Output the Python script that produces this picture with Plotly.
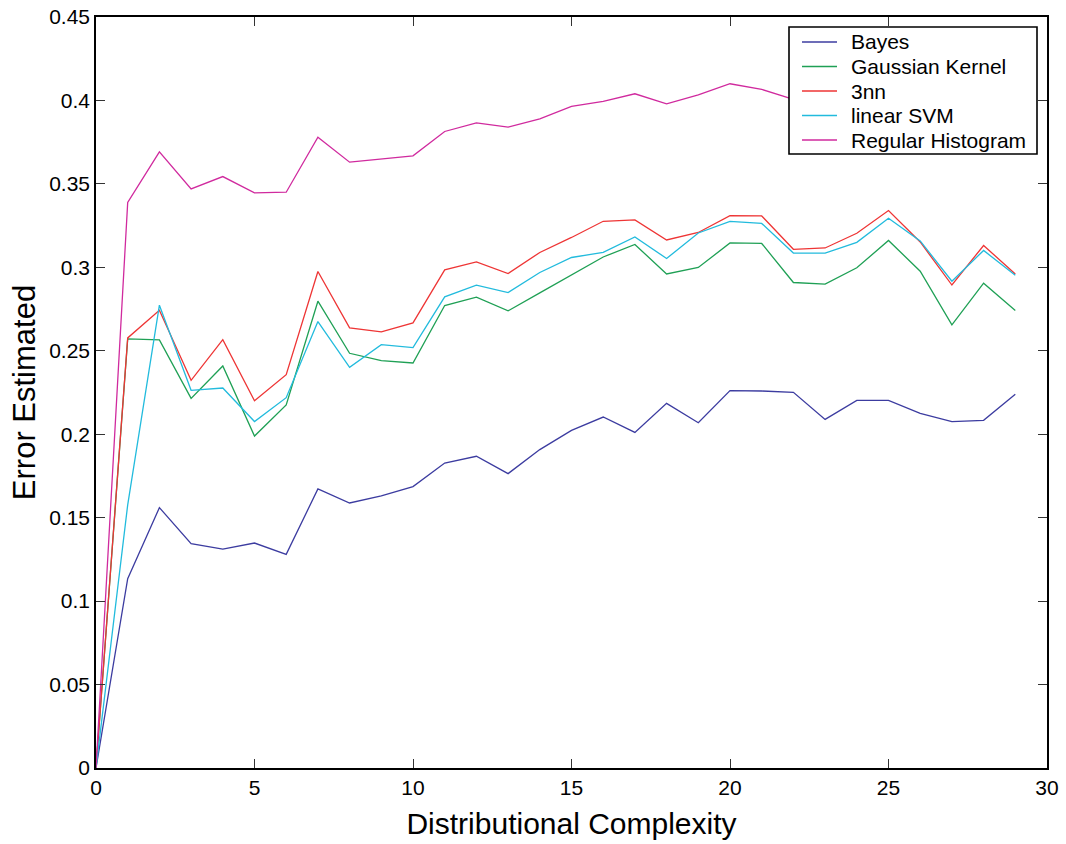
import plotly.graph_objects as go

# Distributional complexity levels
complexity = list(range(30))

bayes = [0, 0.1134, 0.156, 0.1344, 0.1312, 0.1348, 0.128, 0.1672, 0.1588, 0.163,
         0.1686, 0.1827, 0.1868, 0.1764, 0.1908, 0.2023, 0.2103, 0.2011, 0.2185, 0.2069,
         0.2261, 0.2259, 0.2251, 0.2089, 0.2203, 0.2203, 0.2125, 0.2075, 0.2083, 0.2239]

gaussian_kernel = [0, 0.2571, 0.2565, 0.2215, 0.2409, 0.1989, 0.2175, 0.2797, 0.2485, 0.2441,
                   0.2427, 0.2771, 0.2821, 0.2739, 0.2847, 0.2957, 0.3062, 0.3137, 0.2960, 0.2999,
                   0.3146, 0.3143, 0.2909, 0.2899, 0.2997, 0.3161, 0.2977, 0.2655, 0.2905, 0.2741]

knn3 = [0, 0.2577, 0.2743, 0.2323, 0.2567, 0.2201, 0.2357, 0.2975, 0.2637, 0.2613,
        0.2667, 0.2985, 0.3032, 0.2963, 0.3089, 0.3179, 0.3276, 0.3284, 0.3164, 0.3209,
        0.3310, 0.3308, 0.3108, 0.3116, 0.3204, 0.3340, 0.3152, 0.2894, 0.3131, 0.2960]

linear_svm = [0, 0.1577, 0.2773, 0.2263, 0.2277, 0.2076, 0.2219, 0.2675, 0.2401, 0.2537,
              0.2519, 0.2823, 0.2893, 0.2849, 0.2969, 0.3059, 0.3090, 0.3182, 0.3053, 0.3206,
              0.3275, 0.3263, 0.3086, 0.3085, 0.3150, 0.3294, 0.3158, 0.2917, 0.3101, 0.2953]

regular_histogram = [0, 0.3389, 0.3692, 0.3470, 0.3544, 0.3446, 0.3450, 0.3780, 0.3630, 0.3650,
                     0.3668, 0.3814, 0.3866, 0.3840, 0.3890, 0.3964, 0.3994, 0.4040, 0.3980, 0.4034,
                     0.4100, 0.4066, 0.4006, 0.4050, 0.4080, 0.4120, 0.4050, 0.3980, 0.4030, 0.4000]

series_names = ["Bayes", "Gaussian Kernel", "3nn", "linear SVM", "Regular Histogram"]
series_values = [bayes, gaussian_kernel, knn3, linear_svm, regular_histogram]
series_colors = ["#3c3ca0", "#1fa055", "#ee3535", "#22bbdd", "#d02a9e"]

FONT = "Liberation Sans, Arial"
W, H = 1066, 844
ML, MR, MT, MB = 96, 19, 17, 76
PW, PH = W - ML - MR, H - MT - MB


def px_x(p):
    """pixel column -> paper x"""
    return (p - ML) / PW


def px_y(p):
    """pixel row -> paper y"""
    return (H - MB - p) / PH


fig = go.Figure()
for name, vals, color in zip(series_names, series_values, series_colors):
    fig.add_trace(go.Scatter(x=complexity, y=vals, mode="lines", name=name,
                             line=dict(color=color, width=1.3), showlegend=False))

# Boxed legend in the upper right corner, drawn over the curves
shapes = [dict(type="rect", xref="paper", yref="paper", layer="above",
               x0=px_x(789), x1=px_x(1037), y0=px_y(154), y1=px_y(27),
               fillcolor="white", line=dict(color="black", width=1.6))]
annotations = []
row0, row_step = 42, 24.5
for i, (name, color) in enumerate(zip(series_names, series_colors)):
    ry = row0 + i * row_step
    shapes.append(dict(type="line", xref="paper", yref="paper", layer="above",
                       x0=px_x(802), x1=px_x(837), y0=px_y(ry), y1=px_y(ry),
                       line=dict(color=color, width=1.3)))
    annotations.append(dict(xref="paper", yref="paper", x=px_x(849), y=px_y(ry),
                            xanchor="left", yanchor="middle", showarrow=False,
                            text=name, font=dict(family=FONT, size=21, color="black")))

axis_common = dict(
    automargin=False,
    showgrid=False, zeroline=False, showline=True, linecolor="black", linewidth=1.6,
    mirror="ticks", ticks="inside", ticklen=9, tickwidth=1.2, tickcolor="#333",
    tickfont=dict(family=FONT, size=21, color="black"),
)

fig.update_layout(
    width=W, height=H,
    margin=dict(l=ML, r=MR, t=MT, b=MB, autoexpand=False),
    paper_bgcolor="white", plot_bgcolor="white",
    font=dict(family=FONT, color="black"),
    xaxis=dict(range=[0, 30], tickmode="linear", tick0=0, dtick=5,
               title=dict(text="Distributional Complexity",
                          font=dict(size=30, family=FONT)),
               **axis_common),
    yaxis=dict(range=[0, 0.45], tickmode="linear", tick0=0, dtick=0.05,
               title=dict(text="Error Estimated", standoff=4,
                          font=dict(size=31, family=FONT)),
               **axis_common),
    shapes=shapes,
    annotations=annotations,
    showlegend=False,
)

fig.write_html("out.html")
